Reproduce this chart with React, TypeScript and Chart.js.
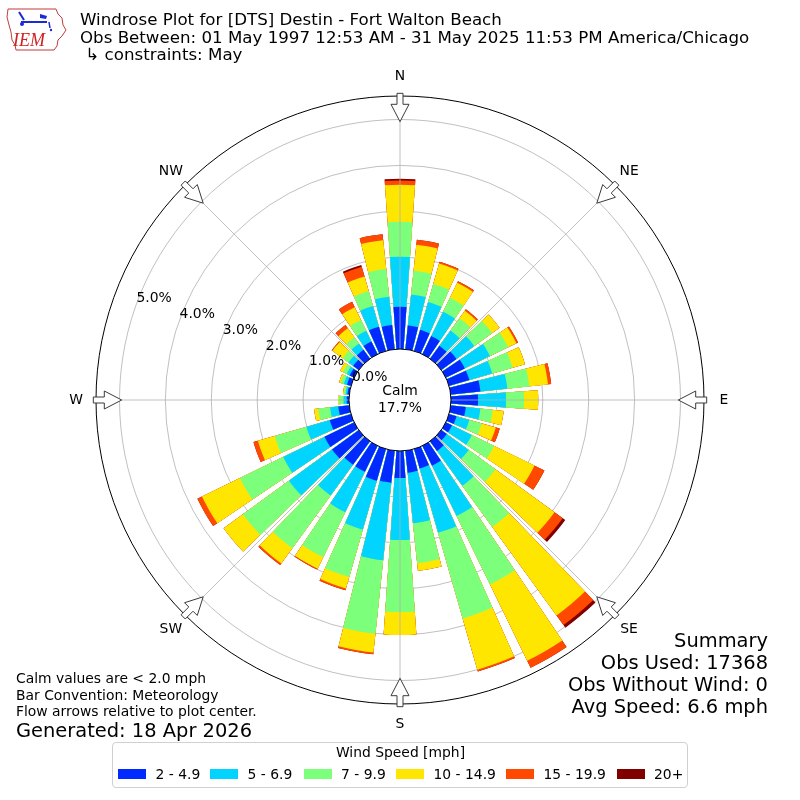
import React, { useEffect, useRef } from 'react';
import { Chart, registerables } from 'chart.js';

Chart.register(...registerables);

// ---------------- data ----------------
const directionDegrees = [
  0, 10, 20, 30, 40, 50, 60, 70, 80, 90, 100, 110, 120, 130, 140, 150, 160, 170,
  180, 190, 200, 210, 220, 230, 240, 250, 260, 270, 280, 290, 300, 310, 320, 330, 340, 350,
];
const speedBinLabels = ['2 - 4.9', '5 - 6.9', '7 - 9.9', '10 - 14.9', '15 - 19.9', '20+'];
const speedBinColors = ['#002AFF', '#00D4FF', '#7CFF7A', '#FFE600', '#FF4900', '#800000'];

// percent of observations per direction, per speed bin
const bin2to5 = [
  0.92, 0.52, 0.48, 0.44, 0.35, 0.41, 0.46, 0.46, 0.65, 0.59, 0.33, 0.17, 0.15, 0.15, 0.26, 0.48, 0.44, 0.48,
  0.59, 0.7, 0.72, 0.63, 0.63, 0.72, 0.72, 0.48, 0.24, 0.05, 0.04, 0.09, 0.11, 0.15, 0.24, 0.31, 0.55, 0.53,
];
const bin5to7 = [
  1.09, 0.68, 0.63, 0.59, 0.41, 0.48, 0.61, 0.52, 0.59, 0.61, 0.32, 0.29, 0.48, 0.59, 0.94, 1.22, 1.46, 1.11,
  1.35, 1.7, 1.11, 0.98, 0.83, 1.16, 1.0, 0.53, 0.18, 0.07, 0.04, 0.07, 0.07, 0.13, 0.17, 0.26, 0.47, 0.62,
];
const bin7to10 = [
  0.76, 0.52, 0.41, 0.34, 0.33, 0.48, 0.44, 0.46, 0.48, 0.39, 0.27, 0.28, 0.54, 0.72, 1.11, 1.66, 1.94, 0.87,
  1.57, 1.61, 1.07, 1.09, 1.42, 1.24, 1.05, 0.72, 0.26, 0.1, 0.04, 0.07, 0.09, 0.15, 0.17, 0.26, 0.34, 0.61,
];
const bin10to15 = [
  0.81, 0.57, 0.46, 0.36, 0.2, 0.2, 0.2, 0.28, 0.41, 0.31, 0.24, 0.32, 0.98, 1.59, 2.38, 1.85, 1.16, 0.17,
  0.5, 0.41, 0.26, 0.28, 0.41, 0.52, 0.92, 0.38, 0.09, 0.02, 0.02, 0.04, 0.07, 0.28, 0.24, 0.31, 0.33, 0.63,
];
const bin15to20 = [
  0.09, 0.11, 0.04, 0.04, 0.04, 0, 0.04, 0, 0.07, 0, 0, 0.09, 0.24, 0.22, 0.26, 0.17, 0.04, 0,
  0, 0.04, 0.04, 0.02, 0.04, 0, 0.11, 0.1, 0, 0, 0, 0, 0, 0.02, 0.09, 0.13, 0.22, 0.13,
];
const bin20plus = [
  0.04, 0, 0, 0, 0, 0, 0, 0, 0, 0, 0, 0, 0, 0.07, 0.07, 0, 0, 0,
  0, 0, 0, 0, 0, 0, 0, 0, 0, 0, 0, 0, 0, 0, 0, 0, 0.04, 0,
];

const ringValues = [0, 1, 2, 3, 4, 5];
const ringLabels = ['0.0%', '1.0%', '2.0%', '3.0%', '4.0%', '5.0%'];
const compassNames = ['N', 'NE', 'E', 'SE', 'S', 'SW', 'W', 'NW'];
const calmLines = ['Calm', '17.7%'];
const titleLines = [
  'Windrose Plot for [DTS] Destin - Fort Walton Beach',
  'Obs Between: 01 May 1997 12:53 AM - 31 May 2025 11:53 PM America/Chicago',
  ' \u21b3 constraints: May',
];
const summaryLines = ['Summary', 'Obs Used: 17368', 'Obs Without Wind: 0', 'Avg Speed: 6.6 mph'];
const noteLines = ['Calm values are < 2.0 mph', 'Bar Convention: Meteorology', 'Flow arrows relative to plot center.'];
const generatedText = 'Generated: 18 Apr 2026';
const legendTitle = 'Wind Speed [mph]';

// radial axis range (percent); negative part is the calm hole
const R_MIN = -1.111;
const R_MAX = 5.512;
const BAR_DEG = 8;
const GAP_DEG = 2;

const FONT = "'DejaVu Sans', 'Noto Sans', sans-serif";

const decorPlugin = {
  id: 'windroseDecor',
  afterDraw(chart: any) {
    const s = chart.scales.r;
    const ctx = chart.ctx as CanvasRenderingContext2D;
    const cx = s.xCenter;
    const cy = s.yCenter;
    const r0 = s.getDistanceFromCenterForValue(0);
    const rOut = s.getDistanceFromCenterForValue(R_MAX);
    ctx.save();
    // spokes every 45 degrees
    ctx.strokeStyle = '#b0b0b0';
    ctx.lineWidth = 0.8;
    for (let k = 0; k < 8; k++) {
      const a = (k * 45 * Math.PI) / 180;
      const sx = Math.sin(a);
      const sy = -Math.cos(a);
      ctx.beginPath();
      ctx.moveTo(cx + sx * r0, cy + sy * r0);
      ctx.lineTo(cx + sx * rOut, cy + sy * rOut);
      ctx.stroke();
    }
    // calm circle
    ctx.beginPath();
    ctx.arc(cx, cy, r0, 0, Math.PI * 2);
    ctx.fillStyle = '#ffffff';
    ctx.fill();
    ctx.strokeStyle = '#000000';
    ctx.lineWidth = 1;
    ctx.stroke();
    ctx.fillStyle = '#000';
    ctx.font = `13.9px ${FONT}`;
    ctx.textAlign = 'center';
    ctx.textBaseline = 'middle';
    ctx.fillText(calmLines[0], cx, cy - 9);
    ctx.fillText(calmLines[1], cx, cy + 8);
    // ring labels (along ~290 deg bearing)
    const phi = (20 * Math.PI) / 180;
    ctx.textAlign = 'left';
    ctx.textBaseline = 'alphabetic';
    ringValues.forEach((v, i) => {
      const r = s.getDistanceFromCenterForValue(v);
      const x = cx - r * Math.cos(phi);
      const y = cy - r * Math.sin(phi);
      ctx.fillText(ringLabels[i], x, y - 1.6);
    });
    // arrows and compass names
    ctx.textAlign = 'center';
    ctx.textBaseline = 'middle';
    for (let k = 0; k < 8; k++) {
      const a = (k * 45 * Math.PI) / 180;
      const ox = Math.sin(a);
      const oy = -Math.cos(a);
      const ux = -ox;
      const uy = -oy;
      const wx = -uy;
      const wy = ux;
      const tx = cx + ox * (rOut + 2.7);
      const ty = cy + oy * (rOut + 2.7);
      const pts = [
        [0, -3], [11, -3], [11, -9], [28.4, 0], [11, 9], [11, 3], [0, 3],
      ];
      ctx.beginPath();
      pts.forEach(([p, q], j) => {
        const px = tx + ux * p + wx * q;
        const py = ty + uy * p + wy * q;
        if (j === 0) ctx.moveTo(px, py);
        else ctx.lineTo(px, py);
      });
      ctx.closePath();
      ctx.fillStyle = '#ffffff';
      ctx.fill();
      ctx.strokeStyle = '#3a3a3a';
      ctx.lineWidth = 1;
      ctx.stroke();
      ctx.fillStyle = '#000';
      ctx.fillText(compassNames[k], cx + ox * (rOut + 20), cy + oy * (rOut + 20));
    }
    ctx.restore();
  },
};

function IemLogo() {
  return (
    <svg width={70} height={56} style={{ position: 'absolute', left: 0, top: 0 }}>
      <path
        d="M8 9 L56 9 L58 14 L62 18 L63 25 L66 30 L62 36 L58 40 L57 46 L54 50 L16 50 L15 45 L12 40 L11 32 L9 25 L7 17 Z"
        fill="none"
        stroke="#c23b3b"
        strokeWidth={1}
      />
      <line x1={21} y1={22} x2={47} y2={22} stroke="#1c2bd6" strokeWidth={2} />
      <line x1={19} y1={12} x2={24} y2={20} stroke="#1c2bd6" strokeWidth={2} />
      <circle cx={22} cy={24} r={2} fill="#1c2bd6" />
      <path d="M40 14 L47 16 L46 19 L40 18 Z" fill="#1c2bd6" />
      <line x1={49} y1={22} x2={50} y2={28} stroke="#1c2bd6" strokeWidth={1.5} />
      <circle cx={51} cy={30} r={1.2} fill="#1c2bd6" />
      <text x={13} y={46} fill="#d02020" fontFamily="'Liberation Serif', serif" fontStyle="italic" fontSize={18}>
        IEM
      </text>
    </svg>
  );
}

export default function App() {
  const canvasRef = useRef<HTMLCanvasElement>(null);

  useEffect(() => {
    const canvas = canvasRef.current;
    if (!canvas) return;
    const series = [bin2to5, bin5to7, bin7to10, bin10to15, bin15to20, bin20plus];
    const labels: string[] = [];
    directionDegrees.forEach((d) => {
      labels.push(String(d));
      labels.push('');
    });
    const datasets = series.map((_, k) => {
      const data: number[] = [];
      directionDegrees.forEach((_, i) => {
        let cum = 0;
        for (let j = 0; j <= k; j++) cum += series[j][i];
        data.push(cum);
        data.push(R_MIN);
      });
      return {
        label: speedBinLabels[k],
        data,
        backgroundColor: (c: any) => (c.dataIndex % 2 === 0 ? speedBinColors[k] : 'rgba(0,0,0,0)'),
        borderWidth: 0,
        angle: (c: any) => (c.dataIndex % 2 === 0 ? BAR_DEG : GAP_DEG),
      };
    });

    const chart = new Chart(canvas, {
      type: 'polarArea',
      data: { labels, datasets } as any,
      options: {
        responsive: false,
        animation: false,
        events: [],
        layout: { padding: 96 },
        plugins: { legend: { display: false }, tooltip: { enabled: false } },
        scales: {
          r: {
            min: R_MIN,
            max: R_MAX,
            startAngle: -BAR_DEG / 2,
            z: 1,
            ticks: { display: false, stepSize: 1 },
            grid: {
              circular: true,
              color: (c: any) => (c.tick && c.tick.value > 5.2 ? '#000000' : '#b0b0b0'),
              lineWidth: (c: any) => (c.tick && c.tick.value > 5.2 ? 1 : 0.8),
            },
            angleLines: { display: false },
            pointLabels: { display: false },
            afterBuildTicks: (scale: any) => {
              scale.ticks = [...ringValues, R_MAX].map((v) => ({ value: v }));
            },
          } as any,
        },
      } as any,
      plugins: [decorPlugin],
    });
    return () => chart.destroy();
  }, []);

  const legendPatchLeft = [118, 210, 303.5, 396, 506, 616.5];

  return (
    <div
      style={{
        position: 'absolute',
        left: 0,
        top: 0,
        width: 800,
        height: 800,
        background: '#fff',
        fontFamily: FONT,
        color: '#000',
        overflow: 'hidden',
      }}
    >
      <canvas ref={canvasRef} width={800} height={800} style={{ position: 'absolute', left: 0, top: 0, width: 800, height: 800 }} />
      <IemLogo />
      {titleLines.map((t, i) => (
        <div
          key={'t' + i}
          style={{ position: 'absolute', left: 80, top: 12 + i * 17.5, fontSize: 16.67, lineHeight: 1, whiteSpace: 'pre' }}
        >
          {t}
        </div>
      ))}
      {summaryLines.map((t, i) => (
        <div
          key={'s' + i}
          style={{ position: 'absolute', right: 32, top: 630.5 + i * 22, fontSize: 19.44, lineHeight: 1, whiteSpace: 'pre', textAlign: 'right' }}
        >
          {t}
        </div>
      ))}
      {noteLines.map((t, i) => (
        <div
          key={'n' + i}
          style={{ position: 'absolute', left: 16, top: 672 + i * 16.6, fontSize: 13.89, lineHeight: 1, whiteSpace: 'pre' }}
        >
          {t}
        </div>
      ))}
      <div style={{ position: 'absolute', left: 16, top: 720.5, fontSize: 19.44, lineHeight: 1, whiteSpace: 'pre' }}>
        {generatedText}
      </div>
      <div
        style={{
          position: 'absolute',
          left: 112,
          top: 742,
          width: 576,
          height: 46,
          border: '1px solid #d0d0d0',
          borderRadius: 4,
          background: 'rgba(255,255,255,0.8)',
          boxSizing: 'border-box',
        }}
      />
      <div style={{ position: 'absolute', left: 112, width: 577, top: 745.5, fontSize: 13.89, lineHeight: 1, textAlign: 'center' }}>
        {legendTitle}
      </div>
      {speedBinLabels.map((t, i) => (
        <React.Fragment key={'l' + i}>
          <div
            style={{
              position: 'absolute',
              left: legendPatchLeft[i],
              top: 769,
              width: 28,
              height: 10,
              background: speedBinColors[i],
            }}
          />
          <div
            style={{
              position: 'absolute',
              left: legendPatchLeft[i] + 37.5,
              top: 767.5,
              fontSize: 13.89,
              lineHeight: 1,
              whiteSpace: 'pre',
            }}
          >
            {t}
          </div>
        </React.Fragment>
      ))}
    </div>
  );
}
